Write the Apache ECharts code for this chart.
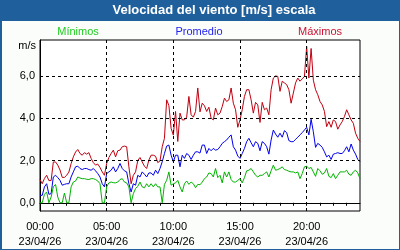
<!DOCTYPE html>
<html><head><meta charset="utf-8">
<script src="https://cdn.jsdelivr.net/npm/echarts@6/dist/echarts.min.js"></script>
<style>html,body{margin:0;padding:0;background:#fff}#c{width:400px;height:250px}</style>
</head><body><div id="c"></div>
<script>
// 10-minute samples, 00:00 .. 24:00 (hours)
const times = Array.from({length:145}, (_, i) => i / 6);
const xTickHours = [0, 5, 10, 15, 20];
const xTickDate = '23/04/26';
const yTicks = [0, 2, 4, 6];
const seriesNames = ['Mínimos', 'Promedio', 'Máximos'];

const maximos = [
1.1,0.9,1.15,1.3,1.05,1.05,1.93,1.93,1.78,1.55,
1.2,1.2,1.3,1.45,1.85,2.17,2.4,2.52,2.33,2.25,
2.37,2.3,2.37,2.1,1.9,1.78,1.83,1.67,1.46,1.3,
1.86,2.14,2.33,2.49,2.17,2.46,2.49,2.65,2.68,2.65,
1.7,0.9,1.3,1.46,2.0,2.14,1.93,1.73,1.62,2.02,
2.25,2.25,2.2,1.9,1.98,2.65,3.05,4.87,4.6,3.52,
3.2,4.32,2.9,4.24,3.92,3.92,4.05,5.03,4.16,4.05,
4.32,5.43,4.3,
4.71,4.59,4.32,4.52,4.0,3.92,4.48,4.16,4.24,
4.55,4.95,4.79,4.87,5.43,4.71,4.4,3.57,3.92,4.4,
5.03,5.35,5.35,4.87,4.24,4.75,4.63,3.8,4.75,4.4,
4.48,4.16,5.35,5.9,6.0,5.98,5.27,5.75,5.67,5.59,
5.35,4.71,5.19,5.67,5.9,5.75,5.86,5.98,7.4,5.9,
7.3,5.8,5.35,5.11,4.79,4.63,4.32,3.6,3.84,3.57,
3.92,3.84,3.48,3.68,3.84,4.08,4.4,4.16,3.92,3.76,
3.29,3.05,2.9
];
const promedio = [
0.35,0.35,0.75,0.9,0.4,0.43,1.22,1.3,1.19,1.06,
0.83,0.87,0.9,0.9,1.22,1.46,1.7,1.73,1.62,1.57,
1.62,1.62,1.57,1.54,1.62,1.51,1.38,1.22,0.9,0.75,
1.38,1.46,1.54,1.7,1.46,1.62,1.86,1.62,1.51,1.46,
0.9,0.51,0.9,0.83,1.3,1.22,1.46,1.35,1.22,1.41,
1.41,1.3,1.54,1.38,1.62,1.94,2.33,2.68,2.73,2.25,
1.94,2.25,2.25,1.7,2.25,2.1,2.33,2.25,2.05,2.25,
2.41,2.41,2.35,
2.73,2.73,2.33,2.57,2.46,2.57,2.49,2.52,2.65,
2.81,2.89,2.97,3.1,3.21,2.65,2.49,2.21,2.1,2.33,
2.57,2.89,3.05,2.84,2.65,2.89,2.81,2.46,2.89,2.81,
2.65,2.3,2.97,3.44,3.25,3.1,3.29,3.1,3.41,3.32,
2.94,2.89,2.89,3.0,3.1,3.21,3.32,3.44,3.57,3.21,
3.95,3.36,2.62,2.81,2.73,2.62,2.41,2.17,2.25,2.05,
2.3,2.33,2.37,2.33,2.33,2.46,2.65,2.41,2.78,2.49,
2.3,2.05,1.94
];
const minimos = [
0,0,0.4,0.51,0,0.27,0.75,0.87,0.27,0,
0,0.46,0,0,0.75,0.98,1.03,1.22,1.17,1.14,
1.14,1.11,1.1,1.14,1.14,1.1,1.03,0.9,0,0,
0.75,0.94,0.98,0.95,0.94,0.98,1.1,1.14,0.98,0.94,
0.75,0,0.43,0.67,0.78,0.98,0.75,0.71,0.9,0.75,
0.9,0.75,0.9,0.75,0.75,0,0.87,1.06,1.46,0.83,
0.9,0.94,1.06,0.75,0.51,0.9,1.03,0.87,0.98,0.9,
0.71,0.87,0.85,
0.98,1.14,1.22,1.41,1.38,1.22,1.62,1.19,1.3,
0.94,1.46,1.22,1.46,1.1,0.98,0.98,1.06,1.14,0.94,
1.19,1.51,1.54,1.62,1.46,1.3,1.22,1.3,1.3,1.38,
1.46,1.22,1.51,1.78,1.54,1.57,1.62,1.7,1.57,1.54,
1.49,1.46,1.46,1.41,1.46,1.14,1.38,1.7,1.73,1.62,
1.67,1.46,1.25,1.62,1.51,1.35,1.41,1.62,1.25,1.19,
1.38,1.14,1.3,1.46,1.46,1.46,1.54,1.35,1.3,1.46,
1.54,1.41,1.14
];

const pair = arr => times.map((t, i) => [t, arr[i]]);
const FONT = 'Liberation Sans';
const dash = {color:'#000', width:1, type:[3,3]};

const chart = echarts.init(document.getElementById('c'), null, {renderer:'canvas'});
chart.setOption({
  animation:false,
  backgroundColor:'#1f5f9c',
  graphic:[
    {type:'rect', shape:{x:2, y:21, width:397, height:228}, style:{fill:'#fbfdfb'}, z:-10, silent:true},
    {type:'text', x:214, y:10, style:{text:'Velocidad del viento [m/s] escala', fill:'#fff', font:'bold 13px "Liberation Sans"', align:'center', verticalAlign:'middle'}},
    {type:'text', x:78, y:32, style:{text:seriesNames[0], fill:'#22cc22', font:'11px "Liberation Sans"', align:'center', verticalAlign:'middle'}},
    {type:'text', x:199, y:32, style:{text:seriesNames[1], fill:'#2222ee', font:'11px "Liberation Sans"', align:'center', verticalAlign:'middle'}},
    {type:'text', x:320, y:32, style:{text:seriesNames[2], fill:'#cc1133', font:'11px "Liberation Sans"', align:'center', verticalAlign:'middle'}},
    {type:'text', x:36, y:46, style:{text:'m/s', fill:'#000', font:'11px "Liberation Sans"', align:'right', verticalAlign:'middle'}}
  ],
  grid:{left:40, top:40, width:320, height:171, show:true, backgroundColor:'#fff', borderColor:'#000', borderWidth:1},
  xAxis:{type:'value', min:0, max:24, interval:1,
    axisLine:{show:true, lineStyle:{color:'#000', width:1}},
    axisTick:{show:true, inside:false, length:3, lineStyle:{color:'#000'}},
    axisLabel:{color:'#000', fontFamily:FONT, fontSize:11, lineHeight:15, margin:8, showMinLabel:true, showMaxLabel:false,
      formatter: v => xTickHours.includes(v) ? String(v).padStart(2,'0') + ':00\n' + xTickDate : ''},
    splitLine:{show:false}},
  yAxis:{type:'value', min:-0.39, max:7.7,
    axisLine:{show:true, lineStyle:{color:'#000'}},
    axisTick:{show:false},
    axisLabel:{color:'#000', fontFamily:FONT, fontSize:11, margin:5, customValues:yTicks,
      formatter: v => v.toFixed(1).replace('.', ',')},
    splitLine:{show:false}},
  series:[
    {name:seriesNames[2], type:'line', data:pair(maximos), showSymbol:false, lineStyle:{color:'#c00010', width:1}, z:3,
      markLine:{silent:true, symbol:'none', label:{show:false}, lineStyle:dash,
        data:[...yTicks.map(v => ({yAxis:v})), ...xTickHours.filter(h => h > 0).map(h => ({xAxis:h}))]}},
    {name:seriesNames[1], type:'line', data:pair(promedio), showSymbol:false, lineStyle:{color:'#0000ee', width:1}, z:4},
    {name:seriesNames[0], type:'line', data:pair(minimos), showSymbol:false, lineStyle:{color:'#00b400', width:1}, z:5}
  ]
});
</script></body></html>
